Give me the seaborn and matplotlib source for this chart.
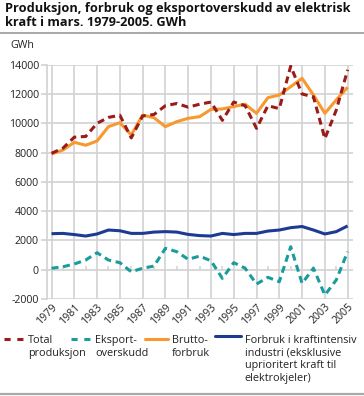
import numpy as np
import pandas as pd
import matplotlib
matplotlib.use("Agg")
import matplotlib.pyplot as plt
import seaborn as sns
from matplotlib.lines import Line2D
from matplotlib.legend_handler import HandlerLine2D

years = list(range(1979, 2006))
total_produksjon = [7950, 8300, 9050, 9100, 10000, 10400, 10550, 9000, 10500, 10600,
                    11200, 11350, 11100, 11300, 11450, 10200, 11450, 11200, 9650, 11200,
                    11000, 13900, 12000, 11800, 8950, 10900, 13650]
eksportoverskudd = [100, 200, 390, 660, 1160, 660, 480, -140, 100, 250,
                    1460, 1230, 710, 930, 610, -590, 480, 100, -980, -520,
                    -820, 1570, -930, 100, -1730, -700, 1230]
brutto_forbruk = [7900, 8170, 8700, 8500, 8790, 9770, 10040, 9200, 10560, 10380,
                  9770, 10110, 10340, 10450, 10950, 10980, 11140, 11300, 10680, 11750,
                  11930, 12500, 13070, 11930, 10680, 11590, 12460]
kraftintensiv = [2460, 2480, 2400, 2300, 2440, 2710, 2660, 2480, 2480, 2570,
                 2600, 2570, 2410, 2330, 2300, 2480, 2400, 2480, 2480, 2640,
                 2710, 2870, 2950, 2710, 2440, 2600, 2990]

labels = ["Total\nproduksjon", "Eksport-\noverskudd", "Brutto-\nforbruk",
          "Forbruk i kraftintensiv\nindustri (eksklusive\nuprioritert kraft til\nelektrokjeler)"]
series = [total_produksjon, eksportoverskudd, brutto_forbruk, kraftintensiv]
colors = ["#9b1b1b", "#1a9c9c", "#f7992e", "#1f3a93"]
dashed = [True, True, False, False]
yticks = [-2000, 0, 2000, 4000, 6000, 8000, 10000, 12000, 14000]
xtick_years = list(range(1979, 2006, 2))
zero_ticks = list(range(1980, 2005, 2))

GRID = "#d2d2d2"
TXT = "#222222"

sns.set_theme(style="white")
plt.rcParams['font.family'] = ['Open Sans', 'DejaVu Sans']

fig = plt.figure(figsize=(3.64, 3.96), dpi=100)
ax = fig.add_axes([46.5/364, 1-299/396, (353-46.5)/364, (299-64.7)/396])

df = pd.DataFrame({"year": years})
for lab, s in zip(labels, series):
    df[lab] = s

order = [2, 3, 1, 0]  # draw order
for i in order:
    lab = labels[i]
    line_kw = dict(color=colors[i], linewidth=2.2, solid_capstyle='butt')
    if dashed[i]:
        line_kw.update(linestyle=(0, (2.3, 1.5)), dash_capstyle='butt')
    sns.lineplot(data=df, x="year", y=lab, ax=ax, legend=False, zorder=3, **line_kw)

# small ticks on the zero line at even years
ax.vlines(zero_ticks, 0, 280, color=GRID, linewidth=1.1, zorder=1)

ax.set_xlim(1978.56, 2005.47)
ax.set_ylim(-2000, 14000)
ax.set_yticks(yticks)
ax.set_yticklabels([str(v) for v in yticks])
ax.set_xticks(xtick_years)
ax.set_xticklabels([str(y) for y in xtick_years], rotation=45, ha='right',
                   rotation_mode='anchor')
ax.set_xlabel("")
ax.set_ylabel("")
ax.grid(True, color=GRID, linewidth=1.2)
ax.set_axisbelow(True)
for sp in ax.spines.values():
    sp.set_visible(False)
ax.spines['left'].set_visible(True)
ax.spines['left'].set_color(GRID)
ax.spines['left'].set_linewidth(1.2)
ax.tick_params(axis='y', length=4, width=1.2, color=GRID, direction='out',
               labelsize=7.7, labelcolor=TXT, pad=1.5, left=True)
ax.tick_params(axis='x', length=0, labelsize=7.7, labelcolor=TXT, pad=2)

# title and decorations
fig.text(5/364, 1-2/396, "Produksjon, forbruk og eksportoverskudd av elektrisk\nkraft i mars. 1979-2005. GWh",
         fontsize=9.2, fontweight='bold', va='top', ha='left', color="#111111", linespacing=1.15)
fig.add_artist(Line2D([0, 1], [1-33/396, 1-33/396], color="#999999", linewidth=1.2,
                      transform=fig.transFigure))
fig.add_artist(Line2D([0, 1], [1-394/396, 1-394/396], color="#aaaaaa", linewidth=1.6,
                      transform=fig.transFigure))
fig.text(10/364, 1-46/396, "GWh", fontsize=7.7, color=TXT, va='center', ha='left')


class TopHandler(HandlerLine2D):
    def __init__(self, nlines, **kw):
        super().__init__(**kw)
        self.nlines = nlines

    def create_artists(self, legend, orig_handle, xdescent, ydescent, width, height,
                       fontsize, trans):
        arts = super().create_artists(legend, orig_handle, xdescent, ydescent, width,
                                      height, fontsize, trans)
        shift = (self.nlines - 1) / 2 * fontsize * 1.2 * 1.2
        for a in arts:
            a.set_ydata(np.asarray(a.get_ydata(), dtype=float) + shift)
        return arts


leg_x = [4, 71, 145, 215]
hlen = [1.9, 1.9, 2.1, 2.4]
for i in range(4):
    ls = (0, (2.0, 2.2)) if dashed[i] else '-'
    h = Line2D([], [], color=colors[i], linewidth=2.2, linestyle=ls)
    nl = labels[i].count("\n") + 1
    leg = fig.legend(handles=[h], labels=[labels[i]], loc='upper left',
                     bbox_to_anchor=(leg_x[i]/364, 1-335/396), frameon=False,
                     fontsize=7.8, handlelength=hlen[i], handletextpad=0.35,
                     borderaxespad=0, borderpad=0, labelspacing=0,
                     handler_map={h: TopHandler(nl)}, labelcolor=TXT)
    for t in leg.get_texts():
        t.set_linespacing(1.2)

fig.savefig("out.png", dpi=100)
